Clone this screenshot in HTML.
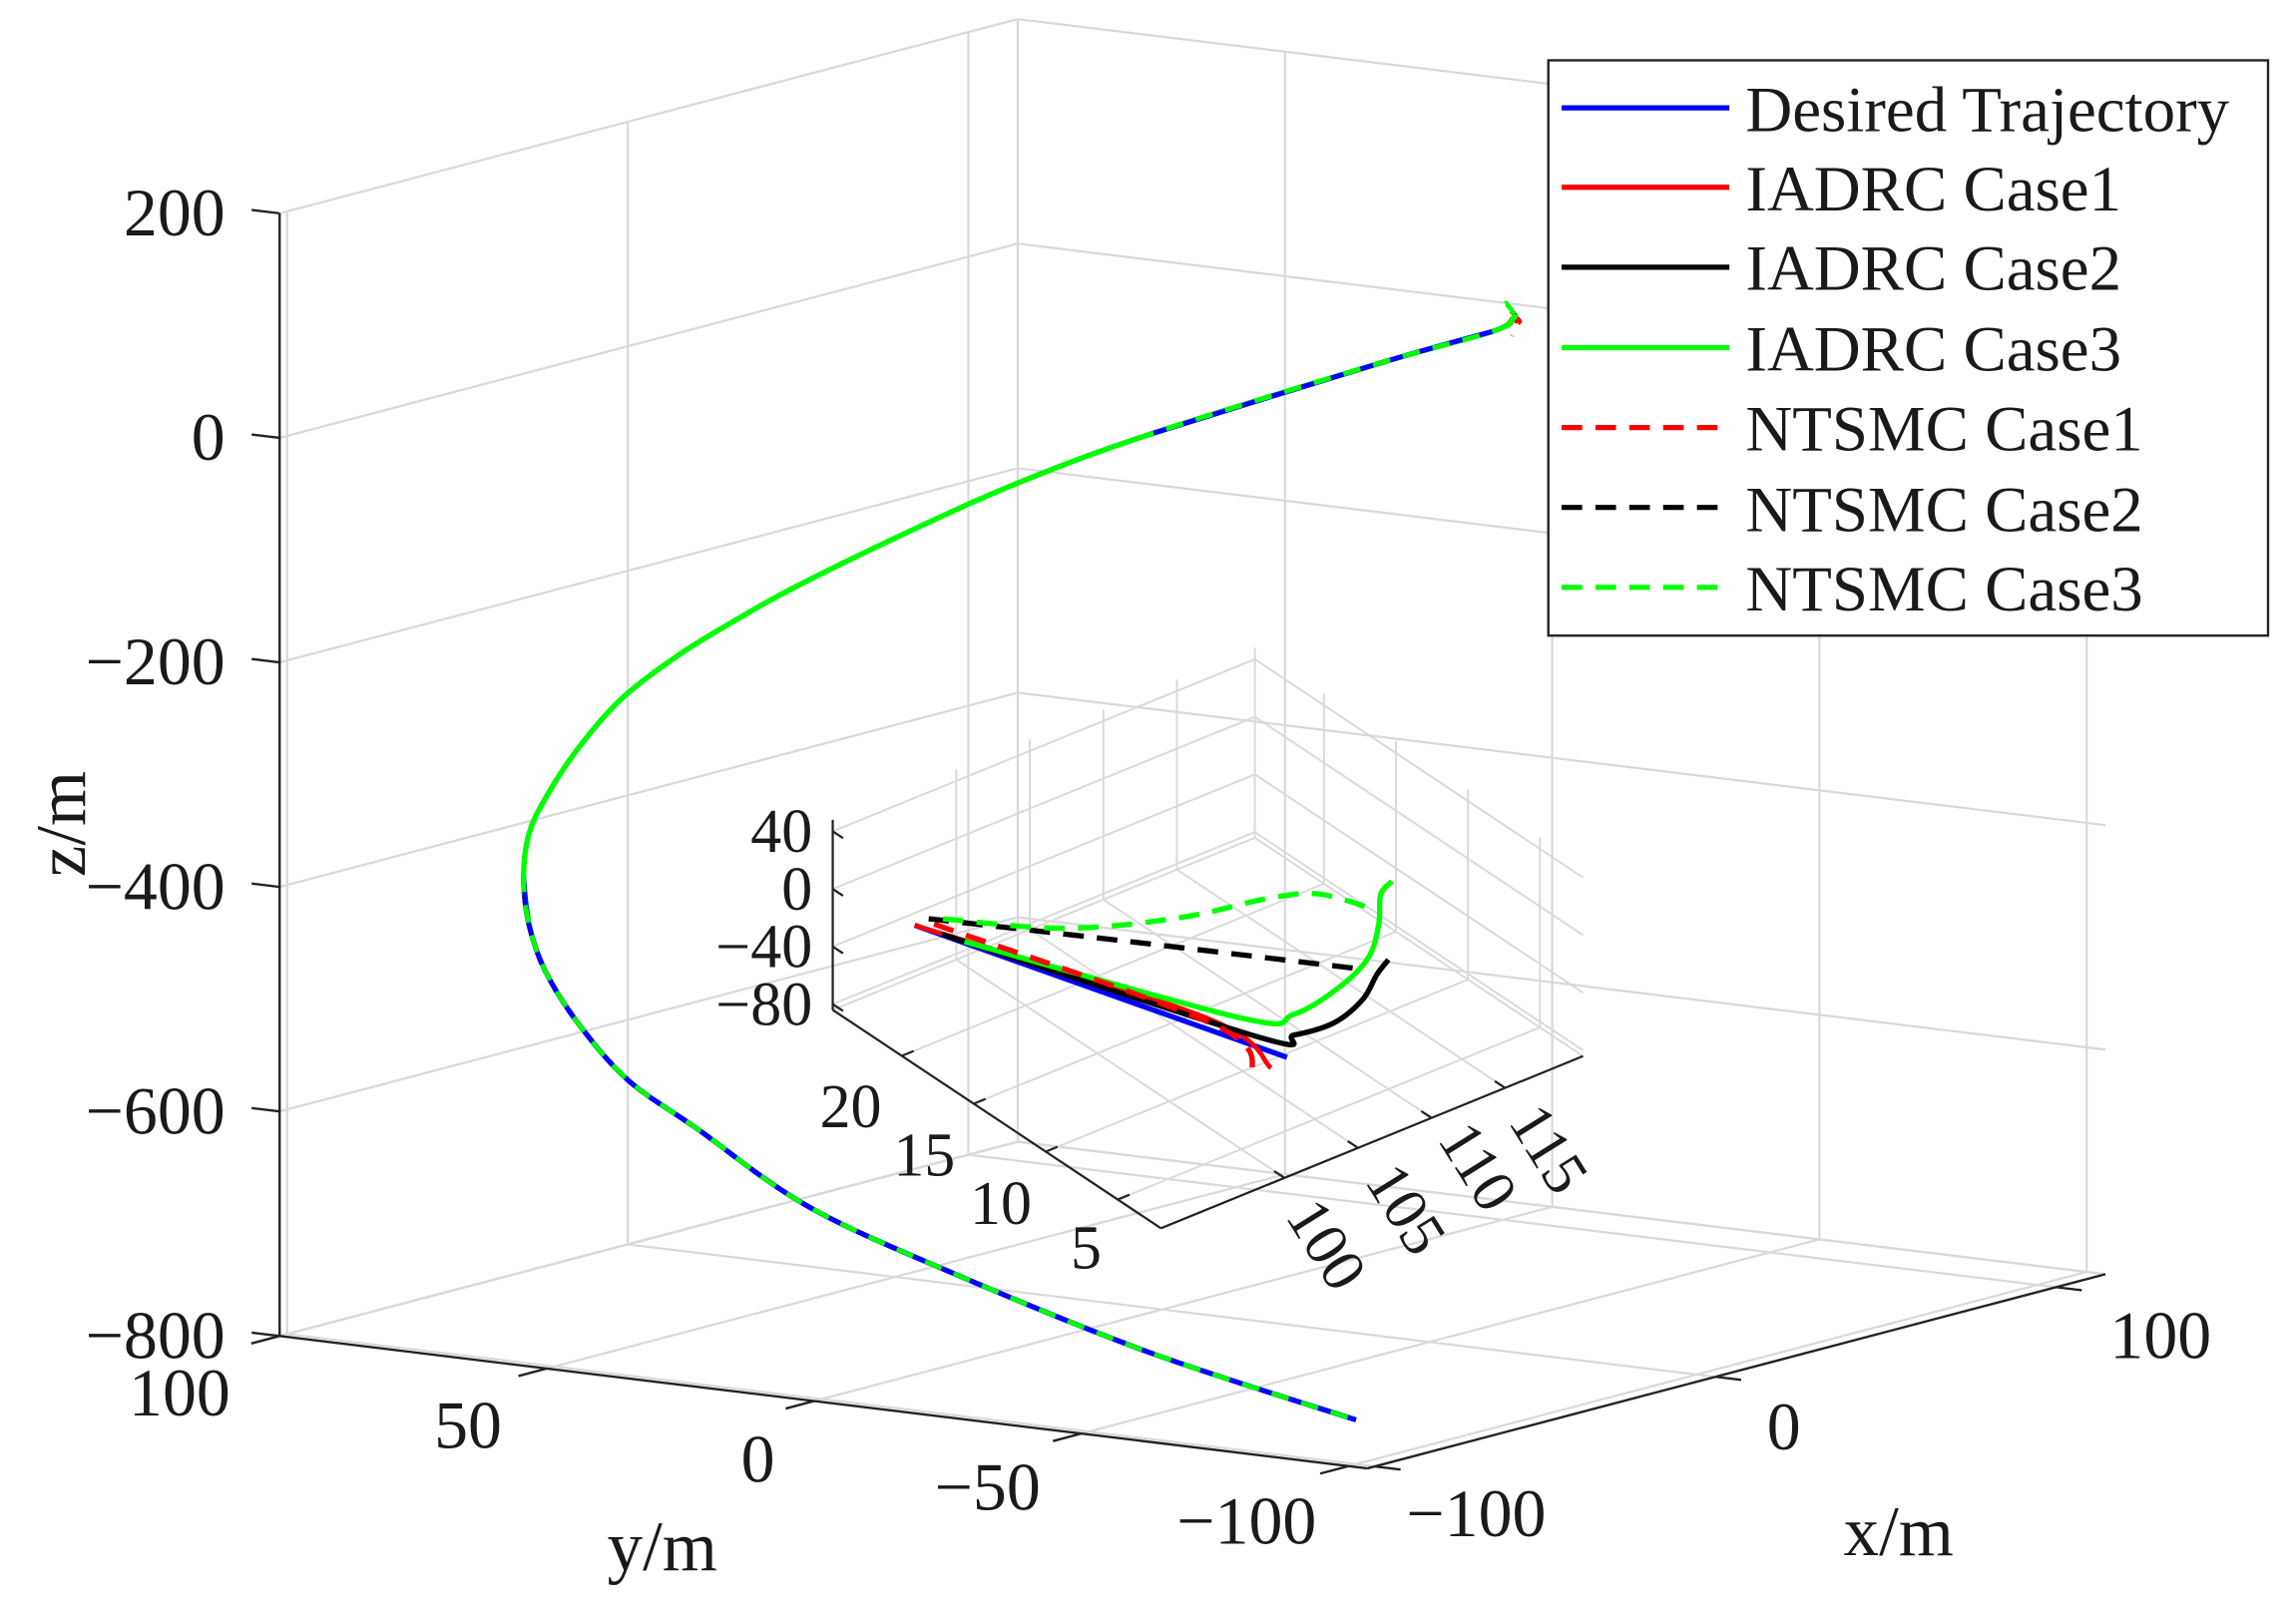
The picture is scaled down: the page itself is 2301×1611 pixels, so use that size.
<!DOCTYPE html>
<html><head><meta charset="utf-8"><title>3D trajectory</title>
<style>
html,body{margin:0;padding:0;background:#fff;}
svg{display:block;}
text{font-family:"Liberation Serif","Times New Roman",serif;fill:#1a1a1a;}
</style></head>
<body>
<svg id="chart" width="2301" height="1611" viewBox="0 0 1560 1092.2" preserveAspectRatio="none" xmlns="http://www.w3.org/2000/svg">
  <rect x="0" y="0" width="1560" height="1092.2" fill="#fff"/>
  <g id="mainGrid"></g>
  <g id="insetGrid"></g>
  <g id="mainAxes"></g>
  <g id="insetAxes"></g>
  <g id="mainSeries"></g>
  <g id="insetSeries"></g>
  <text x="42" y="560" font-size="48" text-anchor="middle" transform="rotate(-90 42 560)" dominant-baseline="central">z/m</text>
  <text x="450" y="1067" font-size="48" text-anchor="middle">y/m</text>
  <text x="1290" y="1057" font-size="48" text-anchor="middle">x/m</text>
  <g id="legend">
    <rect x="1052" y="41" width="489" height="391" fill="#fff" stroke="#222" stroke-width="1.6"/>
    <g><line x1="1061" y1="73.3" x2="1175" y2="73.3" stroke="#0000ff" stroke-width="3.5"/><text x="1186" y="89" font-size="44">Desired Trajectory</text></g>
    <g><line x1="1061" y1="127.3" x2="1175" y2="127.3" stroke="#ff0000" stroke-width="3.5"/><text x="1186" y="143" font-size="44">IADRC Case1</text></g>
    <g><line x1="1061" y1="181.6" x2="1175" y2="181.6" stroke="#000" stroke-width="3.5"/><text x="1186" y="197" font-size="44">IADRC Case2</text></g>
    <g><line x1="1061" y1="236.3" x2="1175" y2="236.3" stroke="#00ff00" stroke-width="3.5"/><text x="1186" y="252" font-size="44">IADRC Case3</text></g>
    <g><line x1="1061" y1="290.6" x2="1175" y2="290.6" stroke="#ff0000" stroke-width="3.5" stroke-dasharray="14 9"/><text x="1186" y="306" font-size="44">NTSMC Case1</text></g>
    <g><line x1="1061" y1="344.9" x2="1175" y2="344.9" stroke="#000" stroke-width="3.5" stroke-dasharray="14 9"/><text x="1186" y="361" font-size="44">NTSMC Case2</text></g>
    <g><line x1="1061" y1="399.2" x2="1175" y2="399.2" stroke="#00ff00" stroke-width="3.5" stroke-dasharray="14 9"/><text x="1186" y="415" font-size="44">NTSMC Case3</text></g>
  </g>
</svg>
<script>
// ===== main plot data =====
const mainXLim = [-102.2, 114.5];
const mainYLim = [-103.5, 100];
const mainZLim = [-800, 200];
const mainXTicks = [-100, 0, 100];
const mainYTicks = [-100, -50, 0, 50, 100];
const mainZTicks = [-800, -600, -400, -200, 0, 200];
const mainXTickLabels = ["\u2212100", "0", "100"];
const mainYTickLabels = ["\u2212100", "\u221250", "0", "50", "100"];
const mainZTickLabels = ["\u2212800", "\u2212600", "\u2212400", "\u2212200", "0", "200"];

const desX = [-74.8, -85.3, -85.8, -82.5, -76.7, -67.7, -55.0, -51.7, -47.7, -46.9, -43.5, -43.9, -37.1, -29.3, -16.8, -8.9, -4.0, -0.65, 0.5, 7.1, 6.7, 14.8, 18.3];
const desY = [-83.9, -51.9, -15.4, 13.8, 38.1, 56.7, 74.1, 82.5, 88.1, 89.6, 90.8, 87.4, 85.6, 82.4, 79.8, 73.6, 65.6, 47.4, 27.3, 6.8, -37.1, -52.5, -54.1];
const desZ = [-790, -740, -690, -650, -600, -575, -545, -505, -470, -430, -395, -360, -320, -280, -250, -220, -190, -135, -80, -30, 60, 90, 100];

const iadrc1TailX = [19];       const iadrc1TailY = [-55];       const iadrc1TailZ = [95];
const iadrc2TailX = [19.5];     const iadrc2TailY = [-53];       const iadrc2TailZ = [104];
const iadrc3TailX = [18.8];     const iadrc3TailY = [-54];       const iadrc3TailZ = [103];
const ntsmc1TailX = [18.6, 18]; const ntsmc1TailY = [-54.5, -54]; const ntsmc1TailZ = [92, 84];
const ntsmc2TailX = [19.8];     const ntsmc2TailY = [-52.5];     const ntsmc2TailZ = [107];
const ntsmc3TailX = [18, 16];   const ntsmc3TailY = [-53, -54];  const ntsmc3TailZ = [112, 114];

// ===== inset data =====
const insXLim = [91.6, 120.3];
const insYLim = [2, 24.8];
const insZLim = [-84, 48];
const insXTicks = [100, 105, 110, 115];
const insYTicks = [5, 10, 15, 20];
const insZTicks = [-80, -40, 0, 40];
const insXTickLabels = ["100", "105", "110", "115"];
const insYTickLabels = ["5", "10", "15", "20"];
const insZTickLabels = ["\u221280", "\u221240", "0", "40"];

const insDesX = [92.47, 102.13];  const insDesY = [20, 4];  const insDesZ = [3.1, -22.5];
const insI1X = [92.47, 98.64, 100.06];  const insI1Y = [20, 6, 3];  const insI1Z = [3.1, 6, -14.6];
const insI2X = [93.35, 100.26, 103.09, 106.3, 109.23, 111.18, 111.96];
const insI2Y = [19, 4, 4.5, 5, 6, 7, 7];
const insI2Z = [-0.1, -0.8, -14.3, -22.5, -25.2, -22.5, -15.6];
const insI3X = [92.92, 100.08, 103.58, 107.67, 111.58, 114.24, 115.34, 116.11];
const insI3Y = [17, 5, 5, 6, 8, 10, 11, 11];
const insI3Z = [9.8, 6.5, -5.2, -9.9, -19.1, -20.3, -11.1, -5];
const insN1X = [94.77, 99.1, 98.9];  const insN1Y = [21, 6, 3];  const insN1Z = [-12.3, -0.4, -13.2];
const insN2X = [95.38, 102.65, 112.57];  const insN2Y = [22, 16, 10];  const insN2Z = [-17.8, -23.4, -44];
const insN3X = [96.35, 102.68, 108.51, 112.38, 113.94, 115.49];
const insN3Y = [22, 20, 18, 16, 14, 12];
const insN3Z = [-21.9, -41.5, -45.2, -35, -24.6, -27.1];

const NS = "http://www.w3.org/2000/svg";
function mk(tag, attrs, parent) {
  const e = document.createElementNS(NS, tag);
  for (const k in attrs) e.setAttribute(k, attrs[k]);
  parent.appendChild(e);
  return e;
}
function makeProj(xl, yl, zl, o, uv, vv, zh) {
  return function (x, y, z) {
    const u = (yl[1] - y) / (yl[1] - yl[0]);
    const v = (x - xl[0]) / (xl[1] - xl[0]);
    const w = (z - zl[0]) / (zl[1] - zl[0]);
    return [o[0] + uv[0] * u + vv[0] * v, o[1] + uv[1] * u + vv[1] * v - zh * w];
  };
}
const PM = makeProj(mainXLim, mainYLim, mainZLim, [190, 908], [739, 90], [501.5, -132], 763);
const PI = makeProj(insXLim, insYLim, insZLim, [565.8, 686.4], [223, 148.4], [286.8, -117], 129.2);

function seg(parent, a, b, stroke, sw, name) {
  const l = mk("line", {x1: a[0], y1: a[1], x2: b[0], y2: b[1], stroke: stroke, "stroke-width": sw}, parent);
  
  
  return l;
}
function drawGrid(P, xl, yl, zl, xt, yt, zt, g, sw) {
  const c = "#d9d9d9";
  xt.forEach(x => {
    seg(g, P(x, yl[0], zl[0]), P(x, yl[1], zl[0]), c, sw, 'grid-line');
    seg(g, P(x, yl[1], zl[0]), P(x, yl[1], zl[1]), c, sw, 'grid-line');
  });
  yt.forEach(y => {
    seg(g, P(xl[0], y, zl[0]), P(xl[1], y, zl[0]), c, sw, 'grid-line');
    seg(g, P(xl[1], y, zl[0]), P(xl[1], y, zl[1]), c, sw, 'grid-line');
  });
  zt.forEach(z => {
    seg(g, P(xl[0], yl[1], z), P(xl[1], yl[1], z), c, sw, 'grid-line');
    seg(g, P(xl[1], yl[1], z), P(xl[1], yl[0], z), c, sw, 'grid-line');
  });
  seg(g, P(xl[1], yl[1], zl[0]), P(xl[1], yl[1], zl[1]), c, sw, 'grid-edge');
  seg(g, P(xl[0], yl[1], zl[0]), P(xl[1], yl[1], zl[0]), c, sw, 'grid-edge');
  seg(g, P(xl[1], yl[1], zl[0]), P(xl[1], yl[0], zl[0]), c, sw, 'grid-edge');
}
drawGrid(PM, mainXLim, mainYLim, mainZLim, mainXTicks, mainYTicks, mainZTicks, document.getElementById('mainGrid'), 1.5);
drawGrid(PI, insXLim, insYLim, insZLim, insXTicks, insYTicks, insZTicks, document.getElementById('insetGrid'), 1.3);

// ===== axes =====
(function () {
  const g = document.getElementById('mainAxes');
  const k = "#222";
  seg(g, PM(mainXLim[0], mainYLim[1], mainZLim[0]), PM(mainXLim[0], mainYLim[1], mainZLim[1]), k, 1.6, 'z-axis-line');
  seg(g, PM(mainXLim[0], mainYLim[1], mainZLim[0]), PM(mainXLim[0], mainYLim[0], mainZLim[0]), k, 1.6, 'y-axis-line');
  seg(g, PM(mainXLim[0], mainYLim[0], mainZLim[0]), PM(mainXLim[1], mainYLim[0], mainZLim[0]), k, 1.6, 'x-axis-line');
  mainZTicks.forEach((z, i) => {
    const p = PM(mainXLim[0], mainYLim[1], z);
    seg(g, p, [p[0] - 19, p[1] - 2.3], k, 1.6, 'z-tick');
    const t = mk("text", {x: 153, y: p[1] + 15, "font-size": 46, "text-anchor": "end"}, g);
    t.textContent = mainZTickLabels[i];
    
    
  });
  const yLabelPos = [[847, 1049], [671, 1026], [515, 1007], [318, 984], [122, 962]];
  mainYTicks.forEach((y, i) => {
    const p = PM(mainXLim[0], y, mainZLim[0]);
    seg(g, p, [p[0] - 19.3, p[1] + 5.1], k, 1.6, 'y-tick');
    const t = mk("text", {x: yLabelPos[i][0], y: yLabelPos[i][1], "font-size": 46, "text-anchor": "middle"}, g);
    t.textContent = mainYTickLabels[i];
    
    
  });
  const xLabelPos = [[1003, 1044], [1212, 985], [1468, 923]];
  mainXTicks.forEach((x, i) => {
    const p = PM(x, mainYLim[0], mainZLim[0]);
    seg(g, p, [p[0] + 17.5, p[1] + 2.1], k, 1.6, 'x-tick');
    const t = mk("text", {x: xLabelPos[i][0], y: xLabelPos[i][1], "font-size": 46, "text-anchor": "middle"}, g);
    t.textContent = mainXTickLabels[i];
    
    
  });
})();
(function () {
  const g = document.getElementById('insetAxes');
  const k = "#222";
  seg(g, PI(insXLim[0], insYLim[1], insZLim[0]), PI(insXLim[0], insYLim[1], insZLim[1]), k, 1.5, 'inset-z-axis-line');
  seg(g, PI(insXLim[0], insYLim[1], insZLim[0]), PI(insXLim[0], insYLim[0], insZLim[0]), k, 1.5, 'inset-y-axis-line');
  seg(g, PI(insXLim[0], insYLim[0], insZLim[0]), PI(insXLim[1], insYLim[0], insZLim[0]), k, 1.5, 'inset-x-axis-line');
  insZTicks.forEach((z, i) => {
    const p = PI(insXLim[0], insYLim[1], z);
    seg(g, p, [p[0] + 7, p[1] + 4.6], k, 1.5, 'inset-z-tick');
    const t = mk("text", {x: 552, y: p[1] + 14, "font-size": 42, "text-anchor": "end"}, g);
    t.textContent = insZTickLabels[i];
    
    
  });
  const yLabelPos = [[738, 862], [680, 832], [628, 799], [578, 766]];
  insYTicks.forEach((y, i) => {
    const p = PI(insXLim[0], y, insZLim[0]);
    seg(g, p, [p[0] + 8, p[1] - 3.3], k, 1.5, 'inset-y-tick');
    const t = mk("text", {x: yLabelPos[i][0], y: yLabelPos[i][1], "font-size": 42, "text-anchor": "middle"}, g);
    t.textContent = insYTickLabels[i];
    
    
  });
  const xLabelPos = [[901, 846], [955, 822], [1004, 793], [1052, 781]];
  insXTicks.forEach((x, i) => {
    const p = PI(x, insYLim[0], insZLim[0]);
    seg(g, p, [p[0] - 7, p[1] - 4.6], k, 1.5, 'inset-x-tick');
    const t = mk("text", {x: xLabelPos[i][0], y: xLabelPos[i][1], "font-size": 42, "text-anchor": "middle", "dominant-baseline": "central",
      transform: "rotate(58 " + xLabelPos[i][0] + " " + xLabelPos[i][1] + ")"}, g);
    t.textContent = insXTickLabels[i];
    
    
  });
})();

// ===== series =====
function pathD(pts) {
  if (pts.length < 3) return "M" + pts.map(p => p[0].toFixed(2) + "," + p[1].toFixed(2)).join("L");
  let d = "M" + pts[0][0].toFixed(2) + "," + pts[0][1].toFixed(2);
  for (let i = 0; i < pts.length - 1; i++) {
    const p0 = pts[i - 1] || pts[i], p1 = pts[i], p2 = pts[i + 1], p3 = pts[i + 2] || p2;
    const c1 = [p1[0] + (p2[0] - p0[0]) / 6, p1[1] + (p2[1] - p0[1]) / 6];
    const c2 = [p2[0] - (p3[0] - p1[0]) / 6, p2[1] - (p3[1] - p1[1]) / 6];
    d += "C" + c1[0].toFixed(2) + "," + c1[1].toFixed(2) + " " + c2[0].toFixed(2) + "," + c2[1].toFixed(2) + " " + p2[0].toFixed(2) + "," + p2[1].toFixed(2);
  }
  return d;
}
function series(P, parent, X, Y, Z, color, sw, dash, offset, name, from, to) {
  const pts = [];
  const a = from || 0, b = (to === undefined) ? X.length : to;
  for (let i = a; i < b; i++) pts.push(P(X[i], Y[i], Z[i]));
  const attrs = {d: pathD(pts), fill: "none", stroke: color, "stroke-width": sw, "stroke-linejoin": "round"};
  if (dash) { attrs["stroke-dasharray"] = dash; attrs["stroke-dashoffset"] = offset || 0; }
  const e = mk("path", attrs, parent);
  
  
  return e;
}
(function () {
  const g = document.getElementById('mainSeries');
  const cat = (a, b) => a.concat(b);
  series(PM, g, cat(desX, iadrc1TailX), cat(desY, iadrc1TailY), cat(desZ, iadrc1TailZ), "#ff0000", 3.2, null, 0, 'iadrc-case1-line');
  series(PM, g, cat(desX, iadrc2TailX), cat(desY, iadrc2TailY), cat(desZ, iadrc2TailZ), "#000000", 3.2, null, 0, 'iadrc-case2-line');
  series(PM, g, desX, desY, desZ, "#0000ff", 3.4, null, 0, 'desired-trajectory-line');
  series(PM, g, cat(desX, ntsmc1TailX), cat(desY, ntsmc1TailY), cat(desZ, ntsmc1TailZ), "#ff0000", 3.2, "12 9", 4, 'ntsmc-case1-line');
  series(PM, g, cat(desX, ntsmc2TailX), cat(desY, ntsmc2TailY), cat(desZ, ntsmc2TailZ), "#000000", 3.2, "12 9", 9, 'ntsmc-case2-line');
  series(PM, g, cat(desX, iadrc3TailX), cat(desY, iadrc3TailY), cat(desZ, iadrc3TailZ), "#00ff00", 3.6, null, 0, 'iadrc-case3-line', 8);
  series(PM, g, desX, desY, desZ, "#0000ff", 3.4, null, 0, 'desired-trajectory-overlay', 0, 10);
  series(PM, g, desX, desY, desZ, "#0000ff", 3.4, null, 0, 'desired-trajectory-overlay-top', 19, 22);
  series(PM, g, cat(desX, ntsmc3TailX), cat(desY, ntsmc3TailY), cat(desZ, ntsmc3TailZ), "#00ff00", 3.2, "12 9", 15, 'ntsmc-case3-line');
})();
(function () {
  const g = document.getElementById('insetSeries');
  series(PI, g, insDesX, insDesY, insDesZ, "#0000ff", 3.6, null, 0, 'inset-desired-trajectory-line');
  series(PI, g, insI1X, insI1Y, insI1Z, "#ff0000", 3.2, null, 0, 'inset-iadrc-case1-line');
  series(PI, g, insI2X, insI2Y, insI2Z, "#000000", 3.6, null, 0, 'inset-iadrc-case2-line');
  series(PI, g, insI3X, insI3Y, insI3Z, "#00ff00", 3.6, null, 0, 'inset-iadrc-case3-line');
  series(PI, g, insN1X, insN1Y, insN1Z, "#ff0000", 3.6, "14 9", 0, 'inset-ntsmc-case1-line');
  series(PI, g, insN2X, insN2Y, insN2Z, "#000000", 3.6, "14 9", 0, 'inset-ntsmc-case2-line');
  series(PI, g, insN3X, insN3Y, insN3Z, "#00ff00", 3.6, "14 9", 0, 'inset-ntsmc-case3-line');
})();
</script>
</body></html>
